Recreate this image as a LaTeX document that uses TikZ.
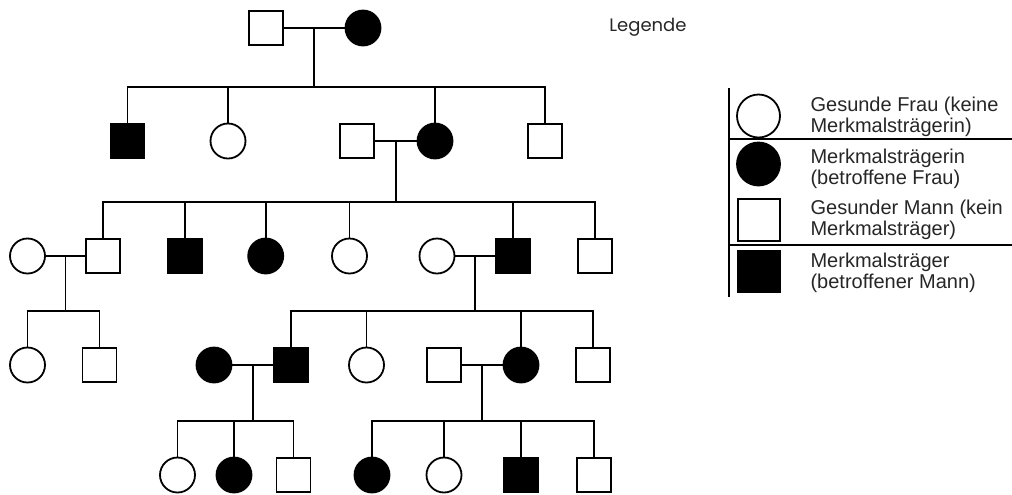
\documentclass[tikz,border=0pt]{standalone}
\usepackage{fontspec}
\usepackage{tikz}
\newfontfamily\legfont{Liberation Sans}
\newfontfamily\titlefont{Poppins}

\begin{document}
\begin{tikzpicture}[x=0.5pt,y=-0.5pt,line width=0.9pt,
  frau/.style={draw=black,fill=white,circle,inner sep=0pt,minimum size=17.5pt},
  fraub/.style={frau,fill=black},
  mann/.style={draw=black,fill=white,rectangle,inner sep=0pt,minimum size=17pt},
  mannb/.style={mann,fill=black},
  legtext/.style={anchor=west,align=left,text=black!85,font=\legfont\fontsize{10}{10.5}\selectfont}]
\useasboundingbox (0,0) rectangle (1012,494);

% Generation I
\node[mann]  (i1) at (266,28) {};
\node[fraub] (i2) at (363,28) {};

% Generation II
\node[mannb] (ii1) at (127.5,141) {};
\node[frau]  (ii2) at (228,141) {};
\node[mann]  (ii3) at (357,141) {};
\node[fraub] (ii4) at (435,141) {};
\node[mann]  (ii5) at (545,141) {};

% Generation III
\node[frau]  (iii1) at (27.5,256) {};
\node[mann]  (iii2) at (103,256) {};
\node[mannb] (iii3) at (185,256) {};
\node[fraub] (iii4) at (265.7,256) {};
\node[frau]  (iii5) at (349.5,256) {};
\node[frau]  (iii6) at (437,256) {};
\node[mannb] (iii7) at (513,256) {};
\node[mann]  (iii8) at (595,256) {};

% Generation IV
\node[frau]  (iv1) at (27.5,365) {};
\node[mann]  (iv2) at (99.5,365) {};
\node[fraub] (iv3) at (214,365) {};
\node[mannb] (iv4) at (291,365) {};
\node[frau]  (iv5) at (366.5,365) {};
\node[mann]  (iv6) at (444,365) {};
\node[fraub] (iv7) at (521,365) {};
\node[mann]  (iv8) at (593,365) {};

% Generation V
\node[frau]  (v1) at (177.5,475) {};
\node[fraub] (v2) at (234,475) {};
\node[mann]  (v3) at (293.5,475) {};
\node[fraub] (v4) at (372,475) {};
\node[frau]  (v5) at (444,475) {};
\node[mannb] (v6) at (521,475) {};
\node[mann]  (v7) at (594,475) {};

% Partnerschaften
\draw (i1) -- coordinate (p1) (i2);
\draw (ii3) -- coordinate (p2) (ii4);
\draw (iii1) -- coordinate (p3) (iii2);
\draw (iii6) -- coordinate (p4) (iii7);
\draw (iv3) -- coordinate (p5) (iv4);
\draw (iv6) -- coordinate (p6) (iv7);

% Geschwisterlinien
\coordinate[yshift=18pt] (s1) at (p1 |- ii1.north);
\coordinate[yshift=18pt] (s2) at (p2 |- iii2.north);
\coordinate[yshift=18pt] (s3) at (p3 |- iv1.north);
\coordinate[yshift=18pt] (s4) at (p4 |- iv4.north);
\coordinate[yshift=18pt] (s5) at (p5 |- v1.north);
\coordinate[yshift=18pt] (s6) at (p6 |- v4.north);

\draw (p1) -- (s1);
\draw (ii1.north) |- (s1) -| (ii5.north);
\foreach \k in {ii2,ii4}
  \draw (\k.north) -- (\k.north |- s1);

\draw (p2) -- (s2);
\draw (iii2.north) |- (s2) -| (iii8.north);
\foreach \k in {iii3,iii4,iii5,iii7}
  \draw (\k.north) -- (\k.north |- s2);

\draw (p3) -- (s3);
\draw (iv1.north) |- (s3) -| (iv2.north);

\draw (p4) -- (s4);
\draw (iv4.north) |- (s4) -| (iv8.north);
\foreach \k in {iv5,iv7}
  \draw (\k.north) -- (\k.north |- s4);

\draw (p5) -- (s5);
\draw (v1.north) |- (s5) -| (v3.north);
\draw (v2.north) -- (v2.north |- s5);

\draw (p6) -- (s6);
\draw (v4.north) |- (s6) -| (v7.north);
\foreach \k in {v5,v6}
  \draw (\k.north) -- (\k.north |- s6);

% Legende
\node[text=black!85,font=\titlefont\fontsize{9}{10}\selectfont] (leg) at (648,27) {Legende};

\coordinate (lo) at (729,88);
\coordinate (lu) at (729,297);
\coordinate (l1) at (729,139);
\coordinate (r1) at (1012,139);
\coordinate (l2) at (729,245);
\coordinate (r2) at (1012,245);
\draw (lo) -- (lu);
\draw (l1) -- (r1);
\draw (l2) -- (r2);

\node[frau,minimum size=21.5pt]  (lf)  at (758.5,116) {};
\node[fraub,minimum size=21.5pt] (lfb) at (758.5,164) {};
\node[mann,minimum size=21pt]    (lm)  at (759,220) {};
\node[mannb,minimum size=21pt]   (lmb) at (759,271.5) {};

\node[legtext] (tf)  at (803,116.5) {Gesunde Frau (keine\\Merkmalsträgerin)};
\node[legtext] (tfb) at (803,168.5) {Merkmalsträgerin\\(betroffene Frau)};
\node[legtext] (tm)  at (803,219.5) {Gesunder Mann (kein\\Merkmalsträger)};
\node[legtext] (tmb) at (803,273) {Merkmalsträger\\(betroffener Mann)};
\end{tikzpicture}
\end{document}
